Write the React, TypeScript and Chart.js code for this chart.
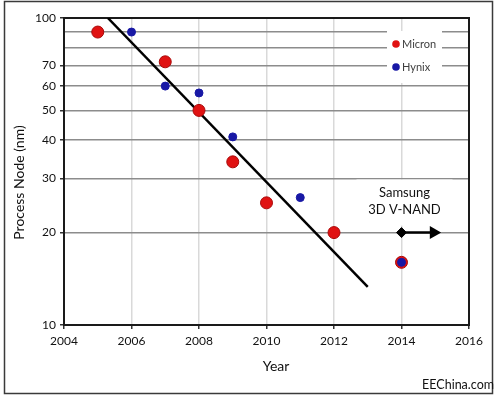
import React, { useEffect, useRef } from 'react';
import { Chart, registerables } from 'chart.js';

Chart.register(...registerables);

// ---- data ----
const micronYears = [2005, 2007, 2008, 2009, 2010, 2012, 2014];
const micronNodes = [90, 72, 50, 34, 25, 20, 16];
const hynixYears = [2006, 2007, 2008, 2009, 2011, 2014];
const hynixNodes = [90, 60, 57, 41, 26, 16];
const trendYears = [2005.3, 2013];
const trendNodes = [100, 13.3];
const samsungYears = [2014];
const samsungNodes = [20];
const arrowYears = [2014, 2014.95];
const arrowNodes = [20, 20];
const xTickValues = [2004, 2006, 2008, 2010, 2012, 2014, 2016];
const yTickValues = [10, 20, 30, 40, 50, 60, 70, 80, 90, 100];
const yLabelValues = [10, 20, 30, 40, 50, 60, 70, 100];
const legendOrder = ['Micron', 'Hynix'];
const samsungLabel = ['Samsung', '3D V-NAND'];
const xTitle = 'Year';
const yTitle = 'Process Node (nm)';
const sourceText = 'EEChina.com';

const FONT = 'Lato, "Open Sans", sans-serif';
const RED = 'rgb(224,18,18)';
const RED_EDGE = 'rgb(170,10,10)';
const BLUE = 'rgb(24,24,165)';

const toPoints = (xs: number[], ys: number[]) => xs.map((x, i) => ({ x, y: ys[i] }));

const decor = {
  id: 'decor',
  beforeDraw(chart: any) {
    const ctx = chart.ctx;
    ctx.save();
    ctx.fillStyle = '#ffffff';
    ctx.fillRect(0, 0, chart.width, chart.height);
    ctx.restore();
  },
  beforeDatasetsDraw(chart: any) {
    const { ctx, chartArea: a, scales } = chart;
    const xs = scales.x;
    const ys = scales.y;
    ctx.save();
    // Samsung annotation box
    const cx = xs.getPixelForValue(samsungYears[0]) + 3;
    const y20 = ys.getPixelForValue(samsungNodes[0]);
    const y30 = ys.getPixelForValue(30);
    ctx.fillStyle = '#ffffff';
    ctx.fillRect(cx - 48, y30 + 1, 96, y20 - y30 - 8);
    ctx.fillStyle = '#111111';
    ctx.font = `13px ${FONT}`;
    ctx.textAlign = 'center';
    ctx.textBaseline = 'middle';
    ctx.fillText(samsungLabel[0], cx, y20 - 40);
    ctx.fillText(samsungLabel[1], cx, y20 - 23);
    // legend box
    ctx.fillStyle = '#ffffff';
    ctx.fillRect(a.right - 82, a.top + 13, 55, 52);
    legendOrder.forEach((name, i) => {
      const d = chart.data.datasets.find((ds: any) => ds.label === name);
      if (!d) return;
      const ly = a.top + 26 + i * 23;
      const lx = a.right - 73;
      ctx.beginPath();
      ctx.arc(lx, ly, 3.8, 0, Math.PI * 2);
      ctx.fillStyle = d.backgroundColor;
      ctx.fill();
      ctx.fillStyle = '#404040';
      ctx.font = `11px ${FONT}`;
      ctx.textAlign = 'left';
      ctx.textBaseline = 'middle';
      ctx.fillText(d.label, lx + 6, ly + 0.5);
    });
    // plot area border
    ctx.strokeStyle = '#1a1a1a';
    ctx.lineWidth = 2;
    ctx.strokeRect(a.left, a.top, a.right - a.left, a.bottom - a.top);
    ctx.restore();
  },
  afterDraw(chart: any) {
    const ctx = chart.ctx;
    ctx.save();
    // outer frame
    ctx.strokeStyle = '#3a3a3a';
    ctx.lineWidth = 1.5;
    ctx.strokeRect(4.5, 1.5, 488, 392);
    // axis titles
    ctx.fillStyle = '#111111';
    ctx.font = `14px ${FONT}`;
    ctx.textAlign = 'center';
    ctx.textBaseline = 'middle';
    ctx.fillText(xTitle, 276, 366);
    ctx.save();
    ctx.translate(19, 182.5);
    ctx.rotate(-Math.PI / 2);
    ctx.fillText(yTitle, 0, 0);
    ctx.restore();
    // source
    ctx.font = `12.5px ${FONT}`;
    ctx.textAlign = 'right';
    ctx.fillText(sourceText, 494, 385);
    ctx.restore();
  },
};

export default function App() {
  const ref = useRef<HTMLCanvasElement | null>(null);
  useEffect(() => {
    if (!ref.current) return;
    Chart.defaults.font.family = FONT;
    const chart = new Chart(ref.current, {
      type: 'scatter',
      data: {
        datasets: [
          {
            label: 'Samsung 3D V-NAND',
            data: toPoints(samsungYears, samsungNodes),
            pointStyle: 'rectRot',
            pointRadius: 5,
            backgroundColor: '#000000',
            borderColor: '#000000',
            order: 0,
          },
          {
            label: 'arrow',
            data: toPoints(arrowYears, arrowNodes),
            showLine: true,
            borderColor: '#000000',
            borderWidth: 2.5,
            pointRadius: [0, 5],
            pointStyle: 'triangle',
            rotation: 90,
            backgroundColor: '#000000',
            pointBorderColor: '#000000',
            order: 1,
          },
          {
            label: 'Hynix',
            data: toPoints(hynixYears, hynixNodes),
            pointRadius: 4,
            backgroundColor: BLUE,
            borderColor: BLUE,
            borderWidth: 1,
            order: 2,
          },
          {
            label: 'Micron',
            data: toPoints(micronYears, micronNodes),
            pointRadius: 6,
            backgroundColor: RED,
            borderColor: RED_EDGE,
            borderWidth: 1,
            order: 3,
          },
          {
            label: 'trend',
            data: toPoints(trendYears, trendNodes),
            showLine: true,
            borderColor: '#000000',
            borderWidth: 2.5,
            pointRadius: 0,
            order: 4,
          },
        ],
      },
      options: {
        animation: false,
        responsive: false,
        events: [],
        layout: { padding: { left: 0, right: 31, top: 18, bottom: 0 } },
        plugins: { legend: { display: false }, tooltip: { enabled: false } },
        scales: {
          x: {
            type: 'linear',
            min: 2004,
            max: 2016,
            afterFit: (s: any) => { s.height = 74; },
            afterBuildTicks: (s: any) => { s.ticks = xTickValues.map((v) => ({ value: v })); },
            ticks: {
              autoSkip: false,
              maxRotation: 0,
              padding: 5,
              color: '#111111',
              font: { size: 12 },
              callback: (v: any) => String(v),
            },
            grid: {
              color: (c: any) => (c.tick && (c.tick.value === 2004 || c.tick.value === 2016) ? 'rgba(0,0,0,0)' : '#d9d9d9'),
              lineWidth: 1.5,
              tickColor: '#333333',
              tickLength: 4,
            },
            border: { color: '#333333', width: 2 },
          },
          y: {
            type: 'logarithmic',
            min: 10,
            max: 100,
            afterFit: (s: any) => { s.width = 64; },
            afterBuildTicks: (s: any) => { s.ticks = yTickValues.map((v) => ({ value: v })); },
            ticks: {
              autoSkip: false,
              padding: 4,
              color: '#111111',
              font: { size: 12 },
              callback: (v: any) => (yLabelValues.includes(Number(v)) ? String(v) : ''),
            },
            grid: {
              color: (c: any) => (c.tick && (c.tick.value === 10 || c.tick.value === 100) ? 'rgba(0,0,0,0)' : '#8c8c8c'),
              lineWidth: 1.5,
              tickColor: (c: any) => (c.tick && yLabelValues.includes(c.tick.value) ? '#333333' : 'rgba(0,0,0,0)'),
              tickLength: 4,
            },
            border: { color: '#333333', width: 2 },
          },
        },
      },
      plugins: [decor],
    } as any);
    return () => chart.destroy();
  }, []);
  return (
    <div style={{ position: 'absolute', left: 0, top: 0, width: 500, height: 399 }}>
      <canvas ref={ref} width={500} height={399} />
    </div>
  );
}
